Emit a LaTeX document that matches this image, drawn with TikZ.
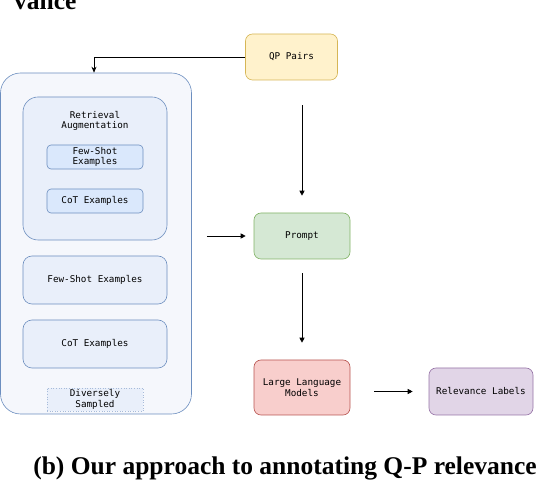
\documentclass[tikz,border=0pt]{standalone}
\usepackage{fontspec}
\setmainfont{Liberation Serif}
\setmonofont{DejaVu Sans Mono}
\usetikzlibrary{arrows.meta}
\definecolor{qpfill}{HTML}{FFF2CC}\definecolor{qpline}{HTML}{D6B656}
\definecolor{prfill}{HTML}{D5E8D4}\definecolor{prline}{HTML}{82B366}
\definecolor{llfill}{HTML}{F8CECC}\definecolor{llline}{HTML}{B85450}
\definecolor{rlfill}{HTML}{E1D5E7}\definecolor{rlline}{HTML}{9673A6}
\definecolor{outfill}{HTML}{F5F7FC}\definecolor{blline}{HTML}{6C8EBF}
\definecolor{midfill}{HTML}{E9EFFA}\definecolor{infill}{HTML}{DAE8FC}
\tikzset{
  box/.style={draw, line width=0.6pt, rounded corners=7pt, align=center,
    font=\ttfamily\fontsize{9.3}{10.5}\selectfont, inner sep=0pt},
  bluebox/.style={box, draw=blline, fill=midfill},
  arr/.style={-{Triangle[length=5pt,width=5pt]}, line width=0.7pt},
}
\begin{document}
\begin{tikzpicture}[x=1pt,y=-1pt]
\clip (0,0) rectangle (542,494);
\useasboundingbox (0,0) rectangle (542,494);
\node[anchor=base west, font=\bfseries\fontsize{25.5}{28}\selectfont, inner sep=0pt] (top) at (14,10) {vance};
% outer container
\node[box, draw=blline, fill=outfill, rounded corners=20pt, minimum width=191pt, minimum height=341pt] (outer) at (96,243.5) {};
\node[bluebox, rounded corners=15pt, minimum width=144pt, minimum height=143pt] (ra) at (95,168.5) {};
\node[font=\ttfamily\fontsize{9.3}{10.5}\selectfont, align=center, inner sep=0pt] (ratext) at (95,121) {Retrieval\\Augmentation};
\node[bluebox, fill=infill, rounded corners=4pt, minimum width=96pt, minimum height=24pt] (fs1) at (95,157) {Few-Shot\\Examples};
\node[bluebox, fill=infill, rounded corners=4pt, minimum width=96pt, minimum height=24pt] (cot1) at (95,201) {CoT Examples};
\node[bluebox, rounded corners=9pt, minimum width=144pt, minimum height=48pt] (fs2) at (95,280) {Few-Shot Examples};
\node[bluebox, rounded corners=9pt, minimum width=144pt, minimum height=48pt] (cot2) at (95,344) {CoT Examples};
\node[box, draw=blline!60, fill=midfill, dotted, rounded corners=0pt, minimum width=96pt, minimum height=23pt] (ds) at (95,399.5) {Diversely\\Sampled};
% right column
\node[box, draw=qpline, fill=qpfill, minimum width=92pt, minimum height=46pt] (qp) at (291.5,57) {QP Pairs};
\node[box, draw=prline, fill=prfill, minimum width=96pt, minimum height=46pt] (pr) at (302,236) {Prompt};
\node[box, draw=llline, fill=llfill, minimum width=96pt, minimum height=55pt] (llm) at (302,387.5) {Large Language\\Models};
\node[box, draw=rlline, fill=rlfill, minimum width=104pt, minimum height=47pt] (rl) at (481,391.5) {Relevance Labels};
% connectors
\draw[-{Stealth[length=6pt,width=5pt]}, line width=0.7pt] (qp.west) -| (outer.north -| 94,0);
\draw[arr, shorten <=25pt, shorten >=17pt] (qp.south -| pr.north) -- (pr.north);
\coordinate (pin) at ([xshift=15pt]outer.east |- pr.west);
\draw[arr] (pin) -- ([xshift=-8pt]pr.west);
\draw[arr, shorten <=14pt, shorten >=17pt] (pr.south) -- (llm.north);
\coordinate (lout) at ([xshift=24pt]llm.east |- rl.west);
\draw[arr, shorten >=16pt] (lout) -- (rl.west);
\node[font=\bfseries\fontsize{25.5}{28}\selectfont, anchor=base, inner sep=0pt] (cap) at (285,475) {(b) Our approach to annotating Q-P relevance};
\end{tikzpicture}
\end{document}
